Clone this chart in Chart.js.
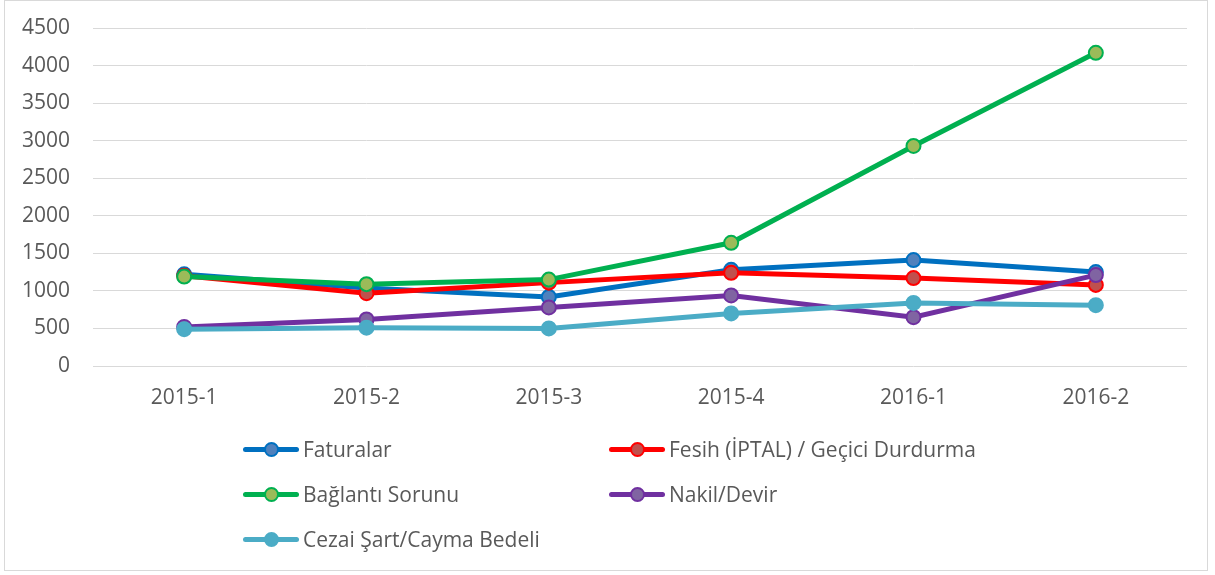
<!DOCTYPE html>
<html>
<head>
<meta charset="utf-8">
<script src="https://cdn.jsdelivr.net/npm/chart.js@4"></script>
<style>
  html, body { margin: 0; padding: 0; background: #fff; }
  #wrap { position: relative; width: 1215px; height: 575px; }
  #frame { position: absolute; left: 4px; top: 0px; width: 1204px; height: 571px; border: 1px solid #D9D9D9; box-sizing: border-box; }
  canvas { position: absolute; left: 0; top: 0; }
  #legend { position: absolute; left: 0; top: 0; width: 1215px; height: 575px; pointer-events: none;
            font-family: "Open Sans", sans-serif; font-size: 21px; color: #595959; }
  .item { position: absolute; height: 26px; display: flex; align-items: center; white-space: nowrap; }
  .sym { position: relative; width: 56px; height: 26px; margin-right: 4px; }
  .sym .ln { position: absolute; left: 0; right: 0; top: 11px; height: 5px; border-radius: 3px; }
  .sym .dot { position: absolute; left: 21px; top: 6px; width: 11px; height: 11px; border-radius: 50%; border: 2px solid; }
</style>
</head>
<body>
<div id="wrap">
  <div id="frame"></div>
  <canvas id="chart" width="1215" height="575"></canvas>
  <div id="legend"></div>
</div>
<script>
  // Categories and series
  const periods = ['2015-1', '2015-2', '2015-3', '2015-4', '2016-1', '2016-2'];
  const faturalar = [1220, 1040, 920, 1280, 1410, 1250];
  const fesih = [1200, 970, 1110, 1240, 1170, 1080];
  const baglanti = [1190, 1090, 1150, 1640, 2930, 4170];
  const nakil = [520, 620, 780, 940, 650, 1210];
  const cezai = [490, 510, 500, 700, 840, 810];
  const yTicks = [0, 500, 1000, 1500, 2000, 2500, 3000, 3500, 4000, 4500];

  const seriesNames = ['Faturalar', 'Fesih (İPTAL) / Geçici Durdurma', 'Bağlantı Sorunu', 'Nakil/Devir', 'Cezai Şart/Cayma Bedeli'];
  const seriesData = [faturalar, fesih, baglanti, nakil, cezai];
  const lineColors = ['#0070C0', '#FF0000', '#00B050', '#7030A0', '#4BACC6'];
  const markerColors = ['#4F81BD', '#C0504D', '#9BBB59', '#8064A2', '#4BACC6'];

  const datasets = seriesNames.map(function(name, i) {
    return {
      label: name,
      data: seriesData[i],
      borderColor: lineColors[i],
      backgroundColor: markerColors[i],
      borderWidth: 5,
      pointRadius: 7,
      pointBorderWidth: 2,
      pointBorderColor: lineColors[i],
      pointBackgroundColor: markerColors[i],
      tension: 0,
      order: seriesNames.length - i, // later series on top, like the original
    };
  });

  const tickFont = { family: 'Open Sans', size: 21 };

  new Chart(document.getElementById('chart'), {
    type: 'line',
    data: { labels: periods, datasets: datasets },
    options: {
      responsive: false,
      animation: false,
      layout: { padding: { left: 0, right: 28, top: 28, bottom: 149 } },
      plugins: { legend: { display: false }, tooltip: { enabled: false } },
      scales: {
        x: {
          offset: true,
          grid: { display: false, drawTicks: false },
          border: { display: false },
          ticks: { color: '#595959', font: tickFont, padding: 19 },
          afterFit: function(scale) {
            scale.height = 60;
            scale.paddingLeft = 0;
            scale.paddingRight = 0;
          },
        },
        y: {
          min: 0,
          max: 4500,
          afterBuildTicks: function(scale) { scale.ticks = yTicks.map(v => ({ value: v })); },
          grid: { color: '#D9D9D9', lineWidth: 1, drawTicks: false },
          border: { display: false },
          ticks: { color: '#595959', font: tickFont, padding: 23, callback: (value) => String(value) },
          afterFit: function(scale) {
            scale.width = 93;
            scale.paddingTop = 0;
            scale.paddingBottom = 0;
          },
        },
      },
    },
  });

  // Legend in two columns, built from the same series lists
  const legendPos = [[243, 436], [609, 436], [243, 481], [609, 481], [243, 526]];
  const legend = document.getElementById('legend');
  seriesNames.forEach(function(name, i) {
    const item = document.createElement('div');
    item.className = 'item';
    item.style.left = legendPos[i][0] + 'px';
    item.style.top = legendPos[i][1] + 'px';
    item.innerHTML = '<div class="sym"><div class="ln" style="background:' + lineColors[i] + '"></div>' +
      '<div class="dot" style="background:' + markerColors[i] + ';border-color:' + lineColors[i] + '"></div></div>' +
      '<span>' + name + '</span>';
    legend.appendChild(item);
  });
</script>
</body>
</html>
